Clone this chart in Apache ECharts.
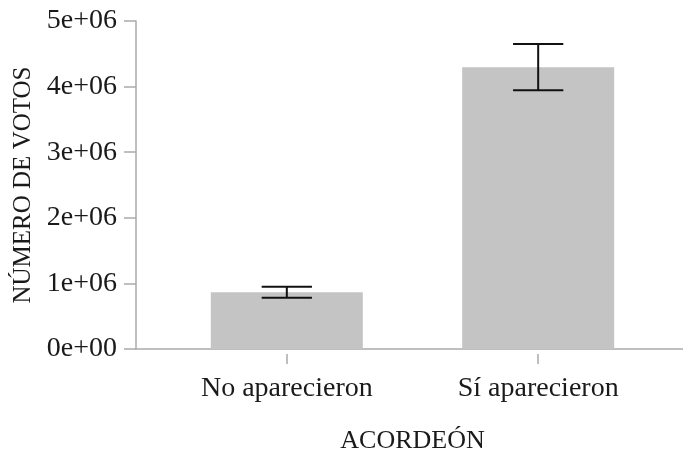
<!DOCTYPE html>
<html>
<head>
<meta charset="utf-8">
<script src="https://cdn.jsdelivr.net/npm/echarts@6/dist/echarts.min.js"></script>
<style>
html,body{margin:0;padding:0;background:#fff;}
#chart{width:683px;height:450px;}
</style>
</head>
<body>
<div id="chart"></div>
<script>
var categories = ['No aparecieron', 'Sí aparecieron'];
var positions = [1, 2];
var votes = [864000, 4295000];
var errLow = [782000, 3945000];
var errHigh = [950000, 4650000];
var yTicks = [0, 1000000, 2000000, 3000000, 4000000, 5000000];
var yTickLabels = ['0e+00', '1e+06', '2e+06', '3e+06', '4e+06', '5e+06'];

var FONT = '"Liberation Serif", "DejaVu Serif", serif';
var AXIS_COLOR = '#aaaaaa';

var chart = echarts.init(document.getElementById('chart'));

var barData = positions.map(function (p, i) { return [p, votes[i]]; });
var errData = positions.map(function (p, i) { return [p, errLow[i], errHigh[i]]; });

chart.setOption({
  animation: false,
  backgroundColor: '#ffffff',
  grid: { left: 136, top: 21, width: 553, height: 328, containLabel: false, outerBoundsMode: 'none' },
  xAxis: [
    {
      type: 'value', min: 0.4, max: 2.6,
      axisLine: { show: true, lineStyle: { color: AXIS_COLOR, width: 1.5 } },
      axisTick: { show: false }, axisLabel: { show: false }, splitLine: { show: false }
    },
    {
      type: 'value', min: 0.4, max: 2.6, position: 'bottom', offset: 5,
      axisLine: { show: false },
      axisTick: { show: true, customValues: positions, length: 10, lineStyle: { color: AXIS_COLOR, width: 1.5 } },
      axisLabel: {
        show: true, customValues: positions, margin: 21,
        fontFamily: FONT, fontSize: 28, color: '#1a1a1a',
        formatter: function (v) { var i = positions.indexOf(v); return i >= 0 ? categories[i] : ''; }
      },
      splitLine: { show: false },
      name: 'ACORDEÓN', nameLocation: 'middle', nameGap: 74,
      nameTextStyle: { fontFamily: FONT, fontSize: 26, color: '#1a1a1a' }
    }
  ],
  yAxis: {
    type: 'value', min: 0, max: 5000000, interval: 1000000,
    axisLine: { show: true, lineStyle: { color: AXIS_COLOR, width: 1.5 } },
    axisTick: { show: true, length: 12, lineStyle: { color: AXIS_COLOR, width: 1.5 } },
    axisLabel: {
      margin: 19, fontFamily: FONT, fontSize: 28, color: '#1a1a1a', padding: [8, 0, 0, 0],
      formatter: function (v) { var i = yTicks.indexOf(v); return i >= 0 ? yTickLabels[i] : ''; }
    },
    splitLine: { show: false },
    name: 'NÚMERO DE VOTOS', nameLocation: 'middle', nameGap: 98, nameRotate: 90,
    nameTextStyle: { fontFamily: FONT, fontSize: 25, color: '#1a1a1a' }
  },
  series: [
    {
      type: 'bar', xAxisIndex: 0, data: barData, barWidth: 152,
      itemStyle: { color: '#c4c4c4' }
    },
    {
      type: 'custom', xAxisIndex: 0, data: errData,
      renderItem: function (params, api) {
        var x = api.value(0);
        var lo = api.coord([x, api.value(1)]);
        var hi = api.coord([x, api.value(2)]);
        var half = api.size([0.1, 0])[0];
        var style = { stroke: '#111111', lineWidth: 2, fill: null };
        return {
          type: 'group',
          children: [
            { type: 'line', shape: { x1: lo[0], y1: lo[1], x2: hi[0], y2: hi[1] }, style: style },
            { type: 'line', shape: { x1: hi[0] - half, y1: hi[1], x2: hi[0] + half, y2: hi[1] }, style: style },
            { type: 'line', shape: { x1: lo[0] - half, y1: lo[1], x2: lo[0] + half, y2: lo[1] }, style: style }
          ]
        };
      },
      z: 5
    }
  ]
});
</script>
</body>
</html>
